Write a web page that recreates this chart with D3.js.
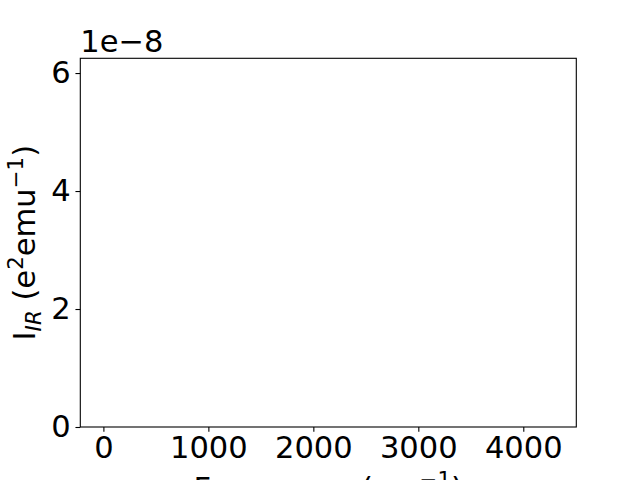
<!DOCTYPE html>
<html>
<head>
<meta charset="utf-8">
<script src="https://cdn.jsdelivr.net/npm/d3@7"></script>
<style>
  html, body { margin: 0; padding: 0; background: #fff; }
  svg { display: block; font-family: "DejaVu Sans", sans-serif; }
</style>
</head>
<body>
<svg id="chart" width="640" height="480"></svg>
<script>
// data -- the reference plot draws no visible spectrum, only the empty axes
const frequencies = [];
const intensities = [];
const xTicks = [0, 1000, 2000, 3000, 4000];
const yTicks = [0, 2e-8, 4e-8, 6e-8];
const xDomain = [-220, 4505];
const yDomain = [0, 6.25e-8];

const W = 640, H = 480;
const margin = {left: 80.3, right: 63.7, top: 58.3, bottom: 53};
const fs = 30.56;   // 22pt at 100 dpi
const tickLen = 4.86, tickPad = 4.86;

const svg = d3.select('#chart');
const plotW = W - margin.left - margin.right;
const plotH = H - margin.top - margin.bottom;

const x = d3.scaleLinear().domain(xDomain).range([0, plotW]);
const y = d3.scaleLinear().domain(yDomain).range([plotH, 0]);

const g = svg.append('g').attr('transform', `translate(${margin.left},${margin.top})`);

// series (empty)
g.append('path')
  .datum(frequencies.map((f, i) => [f, intensities[i]]))
  .attr('fill', 'none')
  .attr('stroke', '#1f77b4')
  .attr('stroke-width', 2)
  .attr('d', d3.line().x(d => x(d[0])).y(d => y(d[1])));

// x axis
const xAxis = g.append('g')
  .attr('transform', `translate(0,${plotH})`)
  .call(d3.axisBottom(x).tickValues(xTicks).tickSizeOuter(0)
    .tickSize(tickLen).tickPadding(tickPad).tickFormat(d3.format('d')));
xAxis.select('.domain').remove();
xAxis.selectAll('line').attr('stroke', '#000').attr('stroke-width', 1.1);
xAxis.selectAll('text').attr('font-size', fs).attr('fill', '#000')
  .attr('font-family', '"DejaVu Sans", sans-serif');

// y axis
const yAxis = g.append('g')
  .call(d3.axisLeft(y).tickValues(yTicks).tickSizeOuter(0)
    .tickSize(tickLen).tickPadding(tickPad).tickFormat(d => Math.round(d / 1e-8)));
yAxis.select('.domain').remove();
yAxis.selectAll('line').attr('stroke', '#000').attr('stroke-width', 1.1);
yAxis.selectAll('text').attr('font-size', fs).attr('fill', '#000')
  .attr('font-family', '"DejaVu Sans", sans-serif');

// frame
g.append('rect')
  .attr('width', plotW).attr('height', plotH)
  .attr('fill', 'none').attr('stroke', '#000').attr('stroke-width', 1.1);

// offset text
svg.append('text')
  .attr('x', margin.left).attr('y', 52)
  .attr('font-size', fs)
  .text('1e\u22128');

// x label
const xl = svg.append('text')
  .attr('x', margin.left + plotW / 2).attr('y', 498.5)
  .attr('text-anchor', 'middle')
  .attr('font-size', fs);
xl.append('tspan').text('Frequency (cm');
xl.append('tspan').attr('dy', -12).attr('font-size', fs * 0.7).text('\u22121');
xl.append('tspan').attr('dy', 12).text(')');

// y label
const yl = svg.append('text')
  .attr('transform', `translate(35,${margin.top + plotH / 2}) rotate(-90)`)
  .attr('text-anchor', 'middle')
  .attr('font-size', fs);
yl.append('tspan').text('I');
yl.append('tspan').attr('dy', 6).attr('font-size', fs * 0.7).attr('font-style', 'italic').text('IR');
yl.append('tspan').attr('dy', -6).text(' (e');
yl.append('tspan').attr('dy', -12).attr('font-size', fs * 0.7).text('2');
yl.append('tspan').attr('dy', 12).text('emu');
yl.append('tspan').attr('dy', -12).attr('font-size', fs * 0.7).text('\u22121');
yl.append('tspan').attr('dy', 12).text(')');
</script>
</body>
</html>
